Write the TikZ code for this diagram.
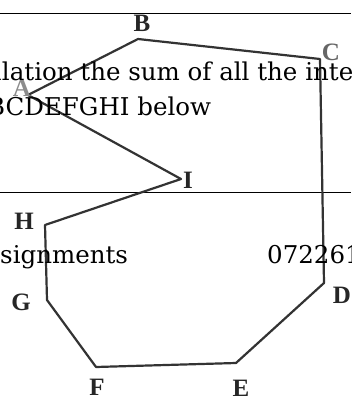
\documentclass[tikz,border=0pt]{standalone}
\usepackage{fontspec}
\setmainfont{DejaVu Serif}
\newfontfamily\vertexfont{Liberation Serif}
\usepackage{tikz}
\usetikzlibrary{positioning}

\begin{document}
\begin{tikzpicture}[
        x=1pt, y=-1pt,
        every node/.style={inner sep=0pt},
        vertex/.style={font=\vertexfont\bfseries\fontsize{25}{25}\selectfont, text=black!85},
        pagetext/.style={font=\fontsize{24.5}{30}\selectfont, anchor=base west},
        side/.style={line width=2.2pt, draw=black!80, line join=round},
        rule/.style={line width=0.8pt}
    ]
        \useasboundingbox (0,0) rectangle (351,401);
        \fill[white] (0,0) rectangle (351,401);
        % the ruled lines of the page
        \draw[rule] (0,13) -- (351,13);
        \draw[rule] (0,192) -- (351,192);
        % polygon ABCDEFGHI
        \coordinate (A) at (28,95);
        \coordinate (B) at (138,39);
        \coordinate (C) at (320,59);
        \coordinate (D) at (324,283);
        \coordinate (E) at (236,363);
        \coordinate (F) at (96,367);
        \coordinate (G) at (47,300);
        \coordinate (H) at (45,225);
        \coordinate (I) at (181,179);
        \draw[side] (A) -- (B) -- (C) -- (D) -- (E) -- (F) -- (G) -- (H) -- (I) -- cycle;
        \node[vertex, text=black!45] (la) at (22,88) {A};
        \node[vertex] (lb) at (142,23) {B};
        \node[vertex, text=black!60] (lc) at (331,52) {C};
        \node[vertex] (ld) at (342,295) {D};
        \node[vertex] (le) at (241,388) {E};
        \node[vertex] (lf) at (97,387) {F};
        \node[vertex] (lg) at (21,302) {G};
        \node[vertex] (lh) at (24,221) {H};
        \node[vertex] (li) at (188,180) {I};
        % text of the page, cut at the edges
        \node[pagetext] (line1) at (-14,81) {ulation the sum of all the inte};
        \node[pagetext] (line2) at (-13,115) {BCDEFGHI below};
        \node[pagetext] (line3) at (0,263) {signments};
        \node[pagetext] (line4) at (267,263) {072261};
    \end{tikzpicture}
\end{document}
